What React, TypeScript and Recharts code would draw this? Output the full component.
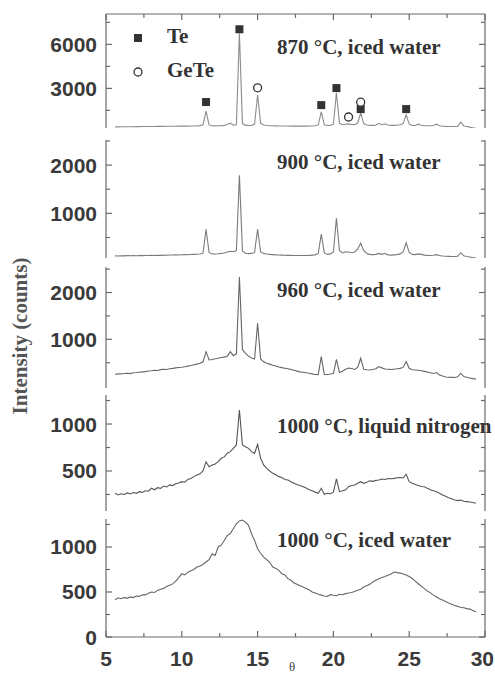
import { ComposedChart, Line, Scatter, XAxis, YAxis } from "recharts";

// 2θ grid shared by all five scans
const theta = [
  5.6, 5.8, 6.0, 6.2, 6.4, 6.6, 6.8, 7.0, 7.2, 7.4,
  7.6, 7.8, 8.0, 8.2, 8.4, 8.6, 8.8, 9.0, 9.2, 9.4,
  9.6, 9.8, 10.0, 10.2, 10.4, 10.6, 10.8, 11.0, 11.2, 11.4,
  11.6, 11.8, 12.0, 12.2, 12.4, 12.6, 12.8, 13.0, 13.2, 13.4,
  13.6, 13.8, 14.0, 14.2, 14.4, 14.6, 14.8, 15.0, 15.2, 15.4,
  15.6, 15.8, 16.0, 16.2, 16.4, 16.6, 16.8, 17.0, 17.2, 17.4,
  17.6, 17.8, 18.0, 18.2, 18.4, 18.6, 18.8, 19.0, 19.2, 19.4,
  19.6, 19.8, 20.0, 20.2, 20.4, 20.6, 20.8, 21.0, 21.2, 21.4,
  21.6, 21.8, 22.0, 22.2, 22.4, 22.6, 22.8, 23.0, 23.2, 23.4,
  23.6, 23.8, 24.0, 24.2, 24.4, 24.6, 24.8, 25.0, 25.2, 25.4,
  25.6, 25.8, 26.0, 26.2, 26.4, 26.6, 26.8, 27.0, 27.2, 27.4,
  27.6, 27.8, 28.0, 28.2, 28.4, 28.6, 28.8, 29.0, 29.2, 29.4,
];

const i870 = [
  380, 380, 385, 385, 390, 390, 390, 395, 395, 400,
  400, 400, 405, 405, 410, 410, 410, 415, 415, 420,
  420, 425, 425, 430, 430, 435, 440, 445, 460, 520,
  1450, 520, 450, 445, 450, 460, 480, 540, 630, 500,
  520, 6750, 600, 480, 470, 480, 560, 2550, 620, 500,
  470, 455, 450, 445, 440, 440, 435, 435, 430, 430,
  430, 430, 430, 430, 435, 440, 450, 520, 1400, 520,
  470, 480, 560, 2700, 620, 520, 560, 580, 540, 530,
  640, 1320, 600, 500, 480, 480, 490, 620, 520, 590,
  500, 480, 480, 490, 520, 600, 1200, 560, 480, 470,
  560, 490, 460, 450, 455, 470, 560, 450, 420, 410,
  400, 400, 405, 410, 700, 440, 400, 360, 320, 300,
];

const i900 = [
  120, 118, 122, 120, 124, 121, 125, 123, 126, 124,
  128, 126, 130, 128, 132, 130, 134, 132, 136, 138,
  140, 138, 142, 145, 143, 148, 150, 152, 158, 175,
  670, 190, 160, 158, 162, 170, 180, 200, 215, 205,
  230, 1790, 220, 175, 165, 170, 190, 670, 200, 170,
  158, 150, 145, 140, 138, 135, 132, 130, 130, 128,
  128, 126, 126, 128, 130, 135, 140, 170, 570, 180,
  150, 160, 200, 900, 230, 180, 205, 200, 185, 200,
  260, 380, 230, 170, 150, 145, 150, 170, 150, 168,
  140, 135, 140, 145, 160, 200, 390, 190, 150, 145,
  160, 150, 135, 130, 128, 132, 145, 125, 115, 110,
  108, 105, 105, 112, 185, 120, 105, 95, 85, 78,
];

const i960 = [
  255, 262, 258, 270, 275, 268, 285, 290, 298, 305,
  310, 322, 330, 340, 335, 352, 360, 355, 372, 380,
  390, 398, 404, 415, 428, 440, 455, 470, 490, 520,
  736, 560, 570, 585, 595, 610, 620, 640, 736, 650,
  690, 2330, 780, 700, 640, 600, 580, 1340, 580, 520,
  490, 470, 445, 430, 410, 395, 383, 370, 355, 340,
  320, 305, 295, 285, 275, 262, 250, 245, 630, 250,
  250, 258, 270, 574, 290, 320, 360, 385, 375, 355,
  400, 596, 360, 350, 345, 355, 370, 418, 390, 365,
  360, 355, 362, 370, 380, 400, 524, 380, 350, 345,
  340, 330, 315, 300, 285, 270, 290, 240, 215, 195,
  190, 188, 185, 200, 276, 205, 190, 175, 160, 150,
];

const i1000ln = [
  262, 245, 258, 250, 266, 255, 270, 262, 280, 272,
  290, 285, 316, 300, 322, 315, 340, 330, 352, 345,
  365, 372, 386, 380, 410, 420, 440, 457, 470, 500,
  599, 546, 564, 575, 600, 635, 650, 690, 706, 741,
  777, 1149, 777, 759, 741, 706, 688, 784, 635, 564,
  528, 500, 475, 460, 440, 430, 410, 404, 385, 370,
  355, 345, 333, 318, 300, 290, 275, 262, 316, 252,
  262, 258, 275, 415, 280, 290, 297, 333, 345, 350,
  369, 386, 369, 380, 395, 390, 400, 404, 415, 410,
  420, 418, 421, 428, 430, 425, 465, 386, 370, 355,
  345, 335, 333, 315, 300, 290, 280, 262, 245, 230,
  215, 205, 191, 185, 190, 178, 174, 170, 165, 156,
];

const i1000iw = [
  414, 435, 425, 440, 430, 445, 438, 455, 451, 470,
  468, 485, 500, 495, 518, 530, 540, 560, 574, 590,
  620, 660, 703, 690, 720, 735, 750, 777, 790, 805,
  833, 860, 925, 905, 1000, 1020, 1073, 1129, 1150, 1203,
  1258, 1290, 1300, 1276, 1240, 1147, 1073, 980, 930, 888,
  860, 830, 777, 760, 740, 703, 690, 648, 630, 600,
  585, 570, 555, 540, 525, 500, 490, 474, 465, 455,
  451, 470, 463, 458, 475, 470, 482, 488, 495, 505,
  520, 530, 555, 570, 585, 611, 630, 648, 660, 672,
  685, 700, 722, 715, 710, 700, 690, 673, 650, 620,
  592, 565, 537, 510, 490, 465, 445, 425, 410, 395,
  377, 365, 351, 340, 330, 325, 315, 310, 295, 278,
];

// phase markers over the 870 °C scan
const teTheta = [11.6, 13.8, 19.2, 20.2, 21.8, 24.8];
const teMark = [2070, 7030, 1860, 3020, 1590, 1590];
const geteTheta = [15.0, 21.0, 21.8];
const geteMark = [3040, 1050, 2060];

const xTicks = [5, 7.5, 10, 12.5, 15, 17.5, 20, 22.5, 25, 27.5, 30];
const xMajor = [5, 10, 15, 20, 25, 30];

const AXIS = "#6a6a6a";
const TICK_FONT = "'Liberation Sans', Arial, sans-serif";
const SERIF = "'Liberation Serif', 'Times New Roman', serif";

type PanelDef = {
  label: string;
  values: number[];
  domain: [number, number];
  major: number[];
  minor: number[];
  top: number; // chart box top
  plotH: number;
  stroke: string;
};

const panels: PanelDef[] = [
  { label: "870 °C, iced water", values: i870, domain: [300, 8070], major: [3000, 6000], minor: [1500, 4500, 7500], top: 0, plotH: 114, stroke: "#8c8c8c" },
  { label: "900 °C, iced water", values: i900, domain: [75, 2520], major: [1000, 2000], minor: [500, 1500, 2500], top: 138, plotH: 118, stroke: "#7a7a7a" },
  { label: "960 °C, iced water", values: i960, domain: [-40, 2545], major: [1000, 2000], minor: [500, 1500, 2500], top: 265, plotH: 121, stroke: "#666" },
  { label: "1000 °C, liquid nitrogen", values: i1000ln, domain: [74, 1309], major: [500, 1000], minor: [250, 750, 1250], top: 393, plotH: 116, stroke: "#555" },
  { label: "1000 °C, iced water", values: i1000iw, domain: [0, 1311], major: [0, 500, 1000], minor: [250, 750, 1250], top: 517, plotH: 118, stroke: "#666" },
];

const labelBaselines = [54, 169, 297, 433, 547];

const leftTick = (major: number[]) => (props: any) => {
  const { x, y, payload } = props;
  const isMajor = major.includes(payload.value);
  return (
    <g>
      <line x1={x} x2={x + (isMajor ? 6 : 4)} y1={y} y2={y} stroke={AXIS} strokeWidth={1.2} />
      {isMajor && (
        <text x={x - 9} y={y + 7.5} textAnchor="end" fontFamily={TICK_FONT} fontWeight="bold" fontSize={21} fill="#3a3a3a">
          {payload.value}
        </text>
      )}
    </g>
  );
};

const rightTick = (major: number[]) => (props: any) => {
  const { x, y, payload } = props;
  const len = major.includes(payload.value) ? 6 : 4;
  return <line x1={x} x2={x - len} y1={y} y2={y} stroke={AXIS} strokeWidth={1.2} />;
};

const bottomTick = (props: any) => {
  const { x, y, payload } = props;
  const isMajor = xMajor.includes(payload.value);
  // the last label would run past the right edge, so it hangs left of its tick
  const atEnd = payload.value === 30;
  return (
    <g>
      <line x1={x} x2={x} y1={y} y2={y - (isMajor ? 6 : 4)} stroke={AXIS} strokeWidth={1.2} />
      {isMajor && (
        <text
          x={atEnd ? x + 9 : x}
          y={y + 29}
          textAnchor={atEnd ? "end" : "middle"}
          fontFamily={TICK_FONT}
          fontWeight="bold"
          fontSize={21}
          fill="#3a3a3a"
        >
          {payload.value}
        </text>
      )}
    </g>
  );
};

const topTick = (props: any) => {
  const { x, y, payload } = props;
  const len = xMajor.includes(payload.value) ? 6 : 4;
  return <line x1={x} x2={x} y1={y} y2={y + len} stroke={AXIS} strokeWidth={1.2} />;
};

const square = (props: any) => (
  <rect x={props.cx - 4} y={props.cy - 4} width={8} height={8} fill="#333" />
);
const ring = (props: any) => (
  <circle cx={props.cx} cy={props.cy} r={4} fill="#fff" stroke="#333" strokeWidth={1.3} />
);

const Panel = ({ p, index }: { p: PanelDef; index: number }) => {
  const first = index === 0;
  const last = index === panels.length - 1;
  const data = theta.map((t, i) => ({ theta: t, v: p.values[i] }));
  const topAxisH = 4;
  const margin = first
    ? { top: 14 - topAxisH, right: 0, bottom: 2, left: 0 }
    : { top: 2, right: 0, bottom: last ? 0 : 2, left: 0 };
  const height = last ? 2 + p.plotH + 38 : margin.top + (first ? topAxisH : 0) + p.plotH + margin.bottom;
  const ticks = [...p.major, ...p.minor].sort((a, b) => a - b);

  return (
    <div style={{ position: "absolute", left: 0, top: p.top }}>
      <ComposedChart width={495} height={height} data={data} margin={margin}>
        {first ? (
          <XAxis
            type="number"
            dataKey="theta"
            orientation="top"
            domain={[5, 30]}
            allowDataOverflow
            ticks={xTicks}
            interval={0}
            height={topAxisH}
            tickSize={0}
            tickMargin={0}
            tickLine={false}
            tick={topTick}
            stroke={AXIS}
            strokeWidth={1.2}
          />
        ) : last ? (
          <XAxis
            type="number"
            dataKey="theta"
            domain={[5, 30]}
            allowDataOverflow
            ticks={xTicks}
            interval={0}
            height={38}
            tickSize={0}
            tickMargin={0}
            tickLine={false}
            tick={bottomTick}
            stroke={AXIS}
            strokeWidth={1.2}
          />
        ) : (
          <XAxis type="number" dataKey="theta" domain={[5, 30]} allowDataOverflow hide />
        )}
        <YAxis
          yAxisId="l"
          type="number"
          domain={p.domain}
          allowDataOverflow
          ticks={ticks}
          interval={0}
          width={106}
          tickSize={0}
          tickMargin={0}
          tickLine={false}
          tick={leftTick(p.major)}
          stroke={AXIS}
          strokeWidth={1.2}
        />
        <YAxis
          yAxisId="r"
          orientation="right"
          type="number"
          domain={p.domain}
          allowDataOverflow
          ticks={ticks}
          interval={0}
          width={10}
          tickSize={0}
          tickMargin={0}
          tickLine={false}
          tick={rightTick(p.major)}
          stroke={AXIS}
          strokeWidth={1.2}
        />
        <Line
          yAxisId="l"
          dataKey="v"
          type="linear"
          stroke={p.stroke}
          strokeWidth={1.1}
          dot={false}
          isAnimationActive={false}
        />
        {first && (
          <Scatter
            yAxisId="l"
            data={teTheta.map((t, i) => ({ theta: t, mark: teMark[i] }))}
            dataKey="mark"
            shape={square}
            isAnimationActive={false}
          />
        )}
        {first && (
          <Scatter
            yAxisId="l"
            data={geteTheta.map((t, i) => ({ theta: t, mark: geteMark[i] }))}
            dataKey="mark"
            shape={ring}
            isAnimationActive={false}
          />
        )}
      </ComposedChart>
    </div>
  );
};

export default function App() {
  return (
    <div style={{ position: "absolute", left: 0, top: 0, width: 495, height: 675, background: "#fff", overflow: "hidden" }}>
      {panels.map((p, i) => (
        <Panel key={p.label} p={p} index={i} />
      ))}
      <svg width={495} height={675} style={{ position: "absolute", left: 0, top: 0, pointerEvents: "none" }}>
        <g fontFamily={SERIF} fontWeight="bold" fontSize={21} fill="#333">
          {panels.map((p, i) => (
            <text key={p.label} x={277} y={labelBaselines[i]}>
              {p.label}
            </text>
          ))}
          {/* legend */}
          <rect x={134} y={34} width={8} height={8} fill="#333" />
          <text x={167} y={43}>Te</text>
          <circle cx={138} cy={72} r={4} fill="#fff" stroke="#333" strokeWidth={1.3} />
          <text x={167} y={77}>GeTe</text>
        </g>
        <text
          x={20}
          y={336}
          transform="rotate(-90 20 336)"
          textAnchor="middle"
          dominantBaseline="central"
          fontFamily={SERIF}
          fontWeight="bold"
          fontSize={21}
          fill="#555"
        >
          Intensity (counts)
        </text>
        <text x={292} y={671} textAnchor="middle" fontFamily={SERIF} fontSize={13} fill="#444">
          θ
        </text>
      </svg>
    </div>
  );
}
